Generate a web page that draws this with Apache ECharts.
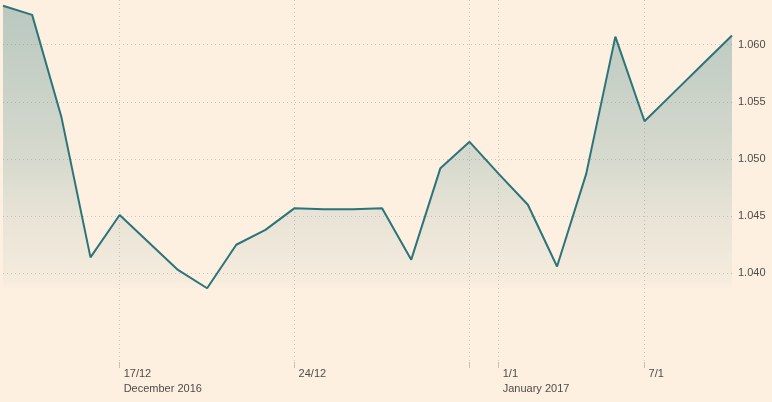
<!DOCTYPE html>
<html>
<head>
<meta charset="utf-8">
<script src="https://cdn.jsdelivr.net/npm/echarts@6/dist/echarts.min.js"></script>
<style>
html,body{margin:0;padding:0;background:#fdf0e1;}
#chart{width:772px;height:402px;}
</style>
</head>
<body>
<div id="chart"></div>
<script>
const dates = ['13/12','14/12','15/12','16/12','17/12','19/12','20/12','21/12','22/12','23/12','24/12','26/12','27/12','28/12','29/12','30/12','31/12','1/1','2/1','3/1','4/1','5/1','7/1','9/1','10/1','11/1'];
const values = [1.0634,1.0626,1.0537,1.0414,1.0451,1.0427,1.0403,1.0387,1.0425,1.0438,1.0457,1.0456,1.0456,1.0457,1.0412,1.0492,1.0515,1.0487,1.0460,1.0406,1.0487,1.0607,1.0533,1.0558,1.0583,1.0608];
const tickDates = ['17/12','24/12','31/12','1/1','7/1'];
const tickLabels = {'17/12':'17/12','24/12':'24/12','1/1':'1/1','7/1':'7/1'};
const monthLabels = {'17/12':'December 2016','1/1':'January 2017'};
const yTicks = [1.040,1.045,1.050,1.055,1.060];

const chart = echarts.init(document.getElementById('chart'));
const gridColor = '#cdc5b9';
const textColor = '#4f4b47';
chart.setOption({
  backgroundColor: '#fdf0e1',
  animation: false,
  grid: {left: 3, right: 40, top: 0, bottom: 40},
  xAxis: {
    type: 'category',
    data: dates,
    boundaryGap: false,
    axisLine: {show: false},
    axisTick: {
      show: true, length: 6,
      interval: (i, v) => tickDates.includes(v),
      lineStyle: {color: '#c9c1b6', width: 1}
    },
    splitLine: {
      show: true,
      interval: (i, v) => tickDates.includes(v),
      lineStyle: {color: gridColor, type: [1, 3], width: 1}
    },
    axisLabel: {
      interval: (i, v) => tickLabels[v] !== undefined,
      formatter: v => (tickLabels[v] || '') + (monthLabels[v] ? '\n' + monthLabels[v] : ''),
      align: 'left',
      padding: [0, 0, 0, 4],
      margin: 4,
      lineHeight: 15,
      color: textColor,
      fontSize: 11,
      fontFamily: 'Liberation Sans, Arial, sans-serif'
    }
  },
  yAxis: {
    type: 'value',
    position: 'right',
    min: 1.03225,
    max: 1.0639,
    axisLine: {show: false},
    axisTick: {show: false, customValues: yTicks},
    splitLine: {show: true, lineStyle: {color: gridColor, type: [1, 3], width: 1}},
    axisLabel: {
      customValues: yTicks,
      formatter: v => v.toFixed(3),
      margin: 6,
      color: textColor,
      fontSize: 11,
      fontFamily: 'Liberation Sans, Arial, sans-serif'
    }
  },
  series: [{
    type: 'line',
    data: values,
    symbol: 'none',
    lineStyle: {color: '#2b7478', width: 2},
    areaStyle: {
      origin: Math.min(...values),
      color: new echarts.graphic.LinearGradient(0, 0, 0, 1, [
        {offset: 0, color: 'rgba(43,116,120,0.46)'},
        {offset: 0.55, color: 'rgba(43,116,120,0.26)'},
        {offset: 0.75, color: 'rgba(43,116,120,0.14)'},
        {offset: 0.96, color: 'rgba(43,116,120,0.055)'},
        {offset: 1, color: 'rgba(43,116,120,0.02)'}
      ])
    }
  }]
});
</script>
</body>
</html>
